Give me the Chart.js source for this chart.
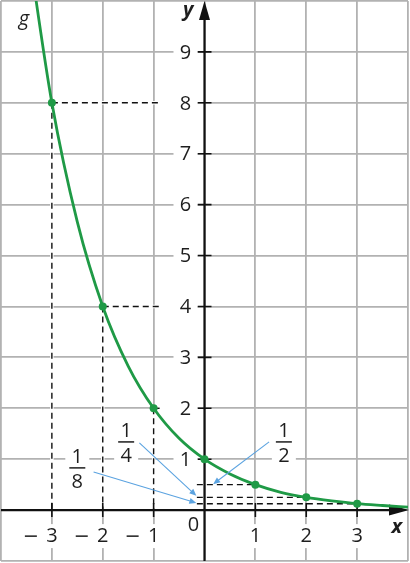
<!DOCTYPE html>
<html>
<head>
<meta charset="utf-8">
<script src="https://cdn.jsdelivr.net/npm/chart.js@4.4.1/dist/chart.umd.min.js"></script>
<style>
  html, body { margin: 0; padding: 0; background: #fff; }
  #wrap { width: 410px; height: 563px; }
</style>
</head>
<body>
<div id="wrap"><canvas id="graph" width="410" height="563"></canvas></div>
<script>
// marked points of g(x) = (1/2)^x
const pointX = [-3, -2, -1, 0, 1, 2, 3];
const pointY = [8, 4, 2, 1, 0.5, 0.25, 0.125];

// the curve, every half unit
const curveX = [-3.5, -3, -2.5, -2, -1.5, -1, -0.5, 0, 0.5, 1, 1.5, 2, 2.5, 3, 3.5, 4];
const curveY = [11.31, 8, 5.66, 4, 2.83, 2, 1.41, 1, 0.71, 0.5, 0.35, 0.25, 0.18, 0.125, 0.09, 0.06];

// tick labels
const xTickValues = [-3, -2, -1, 1, 2, 3];
const xTickLabels = ['– 3', '– 2', '– 1', '1', '2', '3'];
const yTickValues = [1, 2, 3, 4, 5, 6, 7, 8, 9];
const yTickLabels = ['1', '2', '3', '4', '5', '6', '7', '8', '9'];

// fraction callouts
const fractionNum = ['1', '1', '1'];
const fractionDen = ['2', '4', '8'];

const GREEN = '#1f9a46';
const BLUE = '#5ba3e0';
const GRID = '#b2b2b2';
const TEXT = '#1e1e1e';
const FONT = '"Open Sans", "Noto Sans", sans-serif';
const LABEL_FONT = '20px ' + FONT;

// where the callouts sit (data units): label centre, arrow start, arrow end
const calloutLayout = [
  { x: 1.56, y: 1.34, fx: 1.27, fy: 1.34, tx: 0.17, ty: 0.51 },
  { x: -1.54, y: 1.34, fx: -1.28, fy: 1.32, tx: -0.16, ty: 0.28 },
  { x: -2.5, y: 0.83, fx: -2.18, fy: 0.75, tx: -0.16, ty: 0.14 }
];

const toPts = (xs, ys) => xs.map((x, i) => ({ x: x, y: ys[i] }));

// dashed guide lines from the points to the axes
const dashedGuides = [];
const whiteGuides = [];
pointX.forEach((x, i) => {
  const y = pointY[i];
  if (x < 0) {
    dashedGuides.push([{ x: x, y: y }, { x: x, y: 0 }]);
    dashedGuides.push([{ x: x, y: y }, { x: -0.88, y: y }]);
    whiteGuides.push([{ x: x, y: y }, { x: x, y: 0 }]);
    whiteGuides.push([{ x: x, y: y }, { x: -0.15, y: y }]);
  } else if (x > 0) {
    dashedGuides.push([{ x: -0.15, y: y }, { x: x, y: y }]);
  }
});

const datasets = [
  {
    data: toPts(pointX, pointY),
    showLine: false,
    pointRadius: 4,
    pointBackgroundColor: GREEN,
    pointBorderWidth: 0,
    order: 1
  },
  {
    data: toPts(curveX, curveY),
    showLine: true,
    borderColor: GREEN,
    borderWidth: 2.8,
    pointRadius: 0,
    cubicInterpolationMode: 'monotone',
    order: 2
  }
];
const CURVE_INDEX = 1;

dashedGuides.forEach(seg => datasets.push({
  data: seg, showLine: true, borderColor: '#111', borderWidth: 1.4,
  borderDash: [6, 4], pointRadius: 0, order: 3
}));
whiteGuides.forEach(seg => datasets.push({
  data: seg, showLine: true, borderColor: '#fff', borderWidth: 3.5,
  pointRadius: 0, order: 4
}));

function boxedText(ctx, text, x, y, w, h) {
  ctx.fillStyle = '#fff';
  ctx.fillRect(x - w / 2, y - h / 2, w, h);
  ctx.fillStyle = TEXT;
  ctx.fillText(text, x, y);
}

function minusSign(ctx, x, y) {
  ctx.fillStyle = TEXT;
  ctx.fillRect(x - 6, y - 0.7, 12, 1.5);
}

const axesPlugin = {
  id: 'axesPlugin',
  beforeDatasetDraw(chart, args) {
    if (args.index !== CURVE_INDEX) return;
    const ctx = chart.ctx;
    const xs = chart.scales.x, ys = chart.scales.y;
    const area = chart.chartArea;
    const x0 = xs.getPixelForValue(0), y0 = ys.getPixelForValue(0);
    ctx.save();

    // axis lines
    ctx.strokeStyle = '#111';
    ctx.fillStyle = '#111';
    ctx.lineWidth = 2.2;
    ctx.beginPath();
    ctx.moveTo(area.left, y0);
    ctx.lineTo(area.right - 10, y0);
    ctx.moveTo(x0, area.bottom);
    ctx.lineTo(x0, area.top + 10);
    ctx.stroke();

    // arrow heads
    ctx.beginPath();
    ctx.moveTo(area.right + 1, y0);
    ctx.lineTo(area.right - 19, y0 - 5.5);
    ctx.lineTo(area.right - 19, y0 + 5.5);
    ctx.closePath();
    ctx.fill();
    ctx.beginPath();
    ctx.moveTo(x0, area.top);
    ctx.lineTo(x0 - 5.5, area.top + 19);
    ctx.lineTo(x0 + 5.5, area.top + 19);
    ctx.closePath();
    ctx.fill();

    // tick marks
    ctx.lineWidth = 1.6;
    ctx.beginPath();
    xTickValues.forEach(v => {
      const px = xs.getPixelForValue(v);
      ctx.moveTo(px, y0 - 7);
      ctx.lineTo(px, y0 + 7);
    });
    yTickValues.forEach(v => {
      const py = ys.getPixelForValue(v);
      ctx.moveTo(x0 - 7, py);
      ctx.lineTo(x0 + 7, py);
    });
    ctx.stroke();

    // tick labels
    ctx.font = LABEL_FONT;
    ctx.textAlign = 'center';
    ctx.textBaseline = 'middle';
    yTickValues.forEach((v, i) => {
      boxedText(ctx, yTickLabels[i], x0 - 19, ys.getPixelForValue(v) + 1, 24, 22);
    });
    xTickValues.forEach((v, i) => {
      const px = xs.getPixelForValue(v);
      const label = xTickLabels[i];
      const digit = label.replace('– ', '');
      boxedText(ctx, digit, px, y0 + 26, 16, 24);
      if (label !== digit) minusSign(ctx, px - 21, y0 + 26);
    });
    ctx.fillStyle = TEXT;
    ctx.fillText('0', x0 - 11, y0 + 15);
    ctx.restore();
  },
  afterDatasetsDraw(chart) {
    const ctx = chart.ctx;
    const xs = chart.scales.x, ys = chart.scales.y;
    ctx.save();

    // callouts
    calloutLayout.forEach((c, i) => {
      const cx = xs.getPixelForValue(c.x), cy = ys.getPixelForValue(c.y);
      ctx.fillStyle = '#fff';
      ctx.fillRect(cx - 12, cy - 21, 24, 44);
      ctx.fillStyle = TEXT;
      ctx.font = LABEL_FONT;
      ctx.textAlign = 'center';
      ctx.textBaseline = 'middle';
      ctx.fillText(fractionNum[i], cx, cy - 11);
      ctx.fillText(fractionDen[i], cx, cy + 14);
      ctx.fillRect(cx - 8, cy - 0.7, 16, 1.5);

      const fx = xs.getPixelForValue(c.fx), fy = ys.getPixelForValue(c.fy);
      const tx = xs.getPixelForValue(c.tx), ty = ys.getPixelForValue(c.ty);
      const ang = Math.atan2(ty - fy, tx - fx);
      ctx.strokeStyle = BLUE;
      ctx.fillStyle = BLUE;
      ctx.lineWidth = 1.1;
      ctx.beginPath();
      ctx.moveTo(fx, fy);
      ctx.lineTo(tx - 4 * Math.cos(ang), ty - 4 * Math.sin(ang));
      ctx.stroke();
      ctx.beginPath();
      ctx.moveTo(tx, ty);
      ctx.lineTo(tx - 7 * Math.cos(ang) + 3 * Math.sin(ang), ty - 7 * Math.sin(ang) - 3 * Math.cos(ang));
      ctx.lineTo(tx - 7 * Math.cos(ang) - 3 * Math.sin(ang), ty - 7 * Math.sin(ang) + 3 * Math.cos(ang));
      ctx.closePath();
      ctx.fill();
    });

    // axis names and function name
    ctx.fillStyle = TEXT;
    ctx.textAlign = 'center';
    ctx.textBaseline = 'middle';
    ctx.font = 'italic bold 20px ' + FONT;
    ctx.fillText('y', xs.getPixelForValue(-0.32), ys.getPixelForValue(9.82));
    ctx.fillText('x', xs.getPixelForValue(3.78), ys.getPixelForValue(-0.33));
    ctx.font = 'italic 20px ' + FONT;
    ctx.fillText('g', xs.getPixelForValue(-3.55), ys.getPixelForValue(9.64));
    ctx.restore();
  }
};

new Chart(document.getElementById('graph'), {
  type: 'scatter',
  data: { datasets: datasets },
  options: {
    responsive: false,
    animation: false,
    events: [],
    layout: { autoPadding: false, padding: { left: 1, right: 2, top: 1, bottom: 2 } },
    plugins: { legend: { display: false }, tooltip: { enabled: false } },
    scales: {
      x: {
        type: 'linear', min: -4, max: 4,
        ticks: { display: false, stepSize: 1 },
        grid: { color: GRID, lineWidth: 1.8, drawTicks: false },
        border: { display: false },
        afterFit: s => { s.height = 0; }
      },
      y: {
        type: 'linear', min: -1, max: 10,
        ticks: { display: false, stepSize: 1 },
        grid: { color: GRID, lineWidth: 1.8, drawTicks: false },
        border: { display: false },
        afterFit: s => { s.width = 0; }
      }
    }
  },
  plugins: [axesPlugin]
});
</script>
</body>
</html>
